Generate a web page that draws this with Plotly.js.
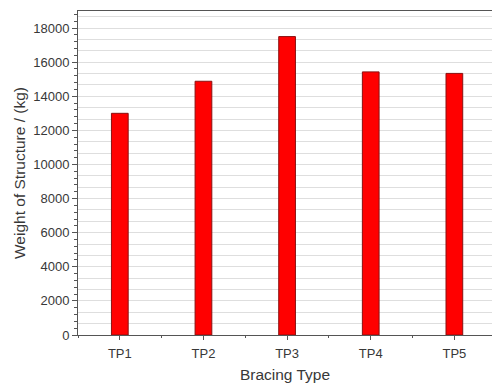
<!DOCTYPE html>
<html>
<head>
<meta charset="utf-8">
<script src="https://cdn.plot.ly/plotly-3.0.1.min.js"></script>
<style>html,body{margin:0;padding:0;background:#fff;}#chart{width:492px;height:383px;}</style>
</head>
<body>
<div id="chart"></div>
<script>
const categories = ["TP1", "TP2", "TP3", "TP4", "TP5"];
const weights = [13000, 14880, 17500, 15430, 15340];
const yTickVals = [0, 2000, 4000, 6000, 8000, 10000, 12000, 14000, 16000, 18000];
const yTickText = ["0", "2000", "4000", "6000", "8000", "10000", "12000", "14000", "16000", "18000"];
const xTitle = "Bracing Type";
const yTitle = "Weight of Structure / (kg)";

const font = "Liberation Sans, Arial, sans-serif";
const xRange = [-0.5, 4.45];
const yRange = [0, 19000];

const traces = [
  {
    type: "bar",
    x: categories,
    y: weights,
    width: 0.2,
    marker: {color: "#ff0000", line: {color: "#8a1010", width: 1}},
    hoverinfo: "x+y",
    showlegend: false
  },
  {
    type: "bar",
    x: categories,
    y: weights.map(() => 0),
    xaxis: "x2",
    yaxis: "y2",
    marker: {color: "rgba(0,0,0,0)"},
    hoverinfo: "skip",
    showlegend: false
  }
];

const layout = {
  width: 492,
  height: 383,
  margin: {l: 78, r: 0, t: 11, b: 48},
  paper_bgcolor: "#ffffff",
  plot_bgcolor: "#ffffff",
  font: {family: font, color: "#383838", size: 13},
  bargap: 0,
  xaxis: {
    type: "category",
    range: xRange,
    showgrid: false,
    showline: true,
    linecolor: "#555555",
    linewidth: 1,
    mirror: true,
    ticks: "outside",
    ticklen: 4,
    tickcolor: "#555555",
    ticklabelstandoff: 2,
    tickfont: {family: font, size: 13, color: "#383838"},
    title: {text: xTitle, font: {family: font, size: 15.5, color: "#383838"}, standoff: 9},
    zeroline: false
  },
  xaxis2: {
    type: "category",
    overlaying: "x",
    side: "bottom",
    range: xRange,
    tickson: "boundaries",
    ticks: "outside",
    ticklen: 2,
    tickcolor: "#555555",
    showticklabels: false,
    showgrid: false,
    showline: false,
    zeroline: false
  },
  yaxis: {
    range: yRange,
    tickvals: yTickVals,
    ticktext: yTickText,
    showgrid: false,
    showline: true,
    linecolor: "#555555",
    linewidth: 1,
    ticks: "outside",
    ticklen: 5,
    tickcolor: "#555555",
    tickfont: {family: font, size: 13, color: "#383838"},
    minor: {dtick: 400, tick0: 0, ticks: "outside", ticklen: 3, tickcolor: "#555555", showgrid: false},
    title: {text: yTitle, font: {family: font, size: 15.5, color: "#383838"}, standoff: 3},
    zeroline: false
  },
  yaxis2: {
    overlaying: "y",
    range: yRange,
    dtick: 2000 / 3,
    tick0: 0,
    showgrid: true,
    gridcolor: "#dedede",
    gridwidth: 1,
    showticklabels: false,
    ticks: "",
    showline: false,
    zeroline: false
  }
};

Plotly.newPlot("chart", traces, layout, {displayModeBar: false, staticPlot: true});
</script>
</body>
</html>
